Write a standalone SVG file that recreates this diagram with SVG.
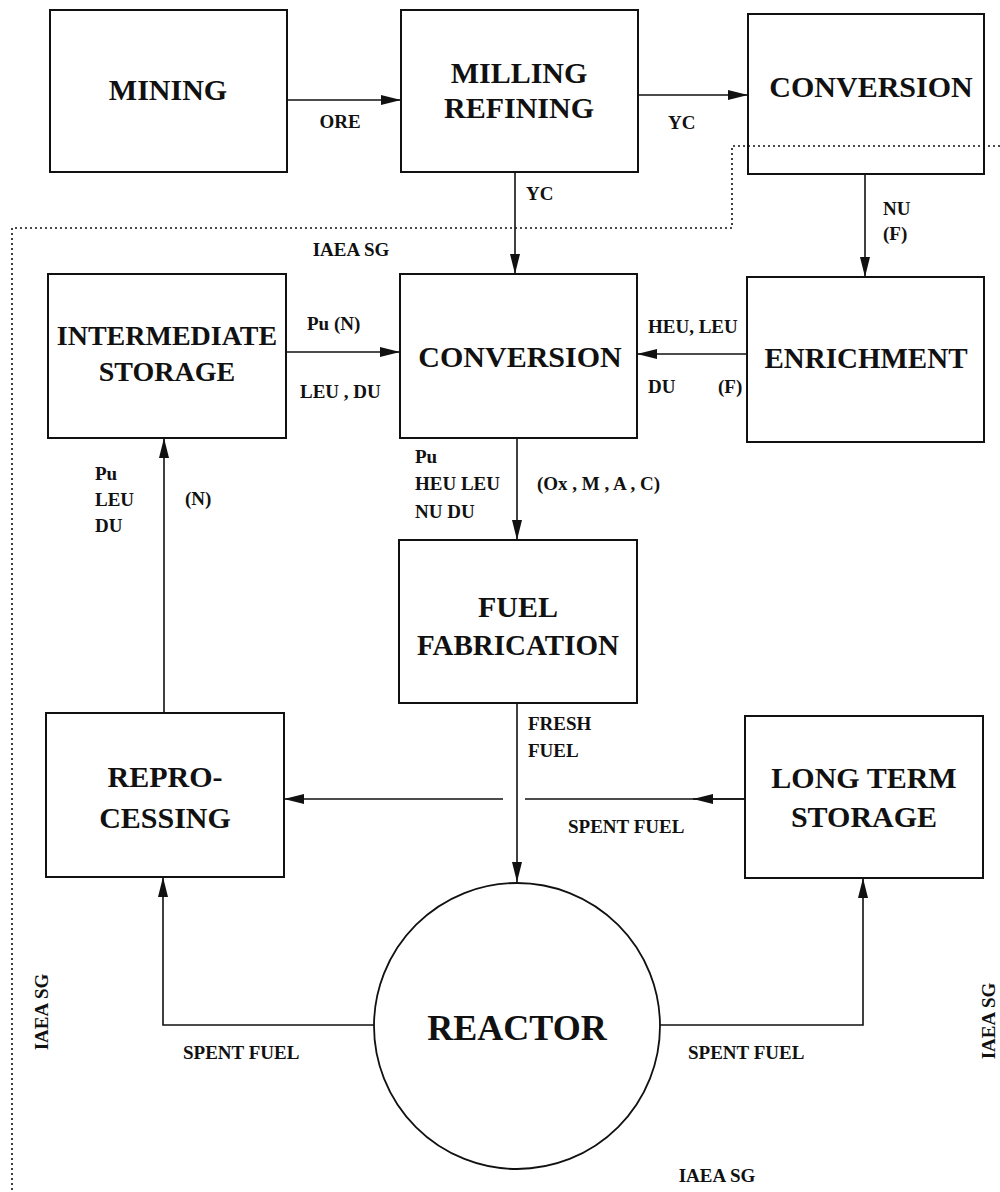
<svg xmlns="http://www.w3.org/2000/svg" width="1000" height="1192" viewBox="0 0 1000 1192">
<style>
.box{fill:#fff;stroke:#111;stroke-width:2}
.t{font-family:'Liberation Serif','Times New Roman',serif;font-weight:bold;font-size:30px;fill:#111;text-anchor:middle}
.l{font-family:'Liberation Serif','Times New Roman',serif;font-weight:bold;font-size:19px;fill:#111}
.c{fill:none;stroke:#111;stroke-width:1.6}
.sg{fill:none;stroke:#111;stroke-width:1.6;stroke-dasharray:2 3}
.ah{fill:#111}
</style>
<defs>
<marker id="arr" viewBox="0 0 20 10" refX="20" refY="5" markerWidth="20" markerHeight="10" markerUnits="userSpaceOnUse" orient="auto">
<path d="M0,0 L20,5 L0,10 Z" class="ah"/>
</marker>
</defs>
<rect width="1000" height="1192" fill="#fff"/>

<g id="safeguards-boundary">
<path class="sg" d="M1000,146 H732 V228 H12 V1192"/>
</g>

<g id="connectors">
<line class="c" x1="287" y1="100" x2="401" y2="100" marker-end="url(#arr)"/>
<line class="c" x1="638" y1="95" x2="748" y2="95" marker-end="url(#arr)"/>
<line class="c" x1="515" y1="172" x2="515" y2="274" marker-end="url(#arr)"/>
<line class="c" x1="865" y1="174" x2="865" y2="277" marker-end="url(#arr)"/>
<line class="c" x1="286" y1="352" x2="400" y2="352" marker-end="url(#arr)"/>
<line class="c" x1="747" y1="354" x2="637" y2="354" marker-end="url(#arr)"/>
<line class="c" x1="517" y1="438" x2="517" y2="540" marker-end="url(#arr)"/>
<line class="c" x1="164" y1="713" x2="164" y2="438" marker-end="url(#arr)"/>
<line class="c" x1="517" y1="703" x2="517" y2="882" marker-end="url(#arr)"/>
<line class="c" x1="745" y1="799" x2="525" y2="799"/>
<line class="c" x1="745" y1="799" x2="693" y2="799" marker-end="url(#arr)"/>
<line class="c" x1="503" y1="799" x2="284" y2="799" marker-end="url(#arr)"/>
<path class="c" d="M375,1025 H163 V877" marker-end="url(#arr)"/>
<path class="c" d="M659,1025 H863 V878" marker-end="url(#arr)"/>
</g>

<g id="node-mining">
<rect class="box" x="50" y="10" width="237" height="162"/>
<text class="t" x="168" y="100">MINING</text>
</g>
<g id="node-milling-refining">
<rect class="box" x="401" y="10" width="237" height="162"/>
<text class="t" x="519" y="83">MILLING</text>
<text class="t" x="519" y="118">REFINING</text>
</g>
<g id="node-conversion-top">
<rect class="box" x="748" y="14" width="236" height="160" style="fill:none"/>
<text class="t" x="871" y="97">CONVERSION</text>
</g>
<g id="node-intermediate-storage">
<rect class="box" x="48" y="274" width="238" height="164"/>
<text class="t" x="167" y="345" style="font-size:28px">INTERMEDIATE</text>
<text class="t" x="167" y="381" style="font-size:28px">STORAGE</text>
</g>
<g id="node-conversion">
<rect class="box" x="400" y="274" width="237" height="164"/>
<text class="t" x="520" y="367">CONVERSION</text>
</g>
<g id="node-enrichment">
<rect class="box" x="747" y="277" width="237" height="165"/>
<text class="t" x="866" y="368" style="font-size:29px">ENRICHMENT</text>
</g>
<g id="node-fuel-fabrication">
<rect class="box" x="399" y="540" width="238" height="163"/>
<text class="t" x="518" y="617">FUEL</text>
<text class="t" x="518" y="655" style="font-size:29px">FABRICATION</text>
</g>
<g id="node-reprocessing">
<rect class="box" x="46" y="713" width="238" height="164"/>
<text class="t" x="165" y="787">REPRO-</text>
<text class="t" x="165" y="828">CESSING</text>
</g>
<g id="node-long-term-storage">
<rect class="box" x="745" y="716" width="238" height="162"/>
<text class="t" x="864" y="788">LONG TERM</text>
<text class="t" x="864" y="827">STORAGE</text>
</g>
<g id="node-reactor">
<circle class="box" cx="517" cy="1026" r="143" style="stroke-width:1.8"/>
<text class="t" x="517" y="1040" style="font-size:36px">REACTOR</text>
</g>

<g id="labels">
<text class="l" x="340" y="128" text-anchor="middle">ORE</text>
<text class="l" x="668" y="129">YC</text>
<text class="l" x="526" y="200">YC</text>
<text class="l" x="883" y="215">NU</text>
<text class="l" x="883" y="240">(F)</text>
<text class="l" x="351" y="256" text-anchor="middle">IAEA SG</text>
<text class="l" x="307" y="330">Pu  (N)</text>
<text class="l" x="300" y="398">LEU , DU</text>
<text class="l" x="648" y="333">HEU, LEU</text>
<text class="l" x="648" y="393">DU</text>
<text class="l" x="718" y="393">(F)</text>
<text class="l" x="415" y="463">Pu</text>
<text class="l" x="415" y="490">HEU LEU</text>
<text class="l" x="415" y="518">NU  DU</text>
<text class="l" x="537" y="490">(Ox , M , A , C)</text>
<text class="l" x="95" y="480">Pu</text>
<text class="l" x="95" y="506">LEU</text>
<text class="l" x="95" y="532">DU</text>
<text class="l" x="185" y="505">(N)</text>
<text class="l" x="528" y="730">FRESH</text>
<text class="l" x="528" y="757">FUEL</text>
<text class="l" x="568" y="833">SPENT FUEL</text>
<text class="l" x="183" y="1059">SPENT FUEL</text>
<text class="l" x="688" y="1059">SPENT FUEL</text>
<text class="l" x="717" y="1182" text-anchor="middle">IAEA SG</text>
<text class="l" transform="translate(48,1012) rotate(-90)" text-anchor="middle">IAEA SG</text>
<text class="l" transform="translate(995,1021) rotate(-90)" text-anchor="middle">IAEA SG</text>
</g>
</svg>
